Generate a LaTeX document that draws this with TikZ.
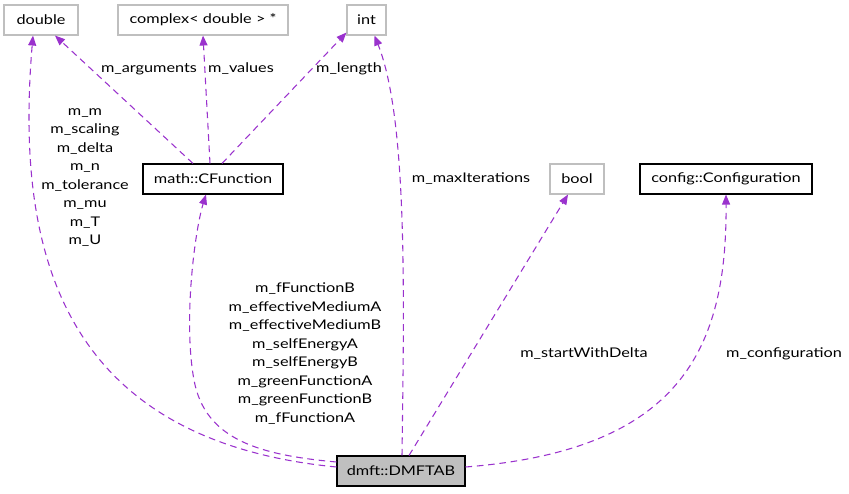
\documentclass[tikz,border=0pt]{standalone}
\usepackage{fontspec}
\setmainfont{Lato}[FakeStretch=1.22]
\usetikzlibrary{arrows.meta,calc}
\definecolor{edgecol}{RGB}{154,50,205}
\definecolor{greyline}{RGB}{191,191,191}
\definecolor{selffill}{RGB}{191,191,191}
\tikzset{
  klass/.style={draw=black,line width=0.8pt,minimum height=22.5pt,inner sep=0pt,font=\fontsize{10}{12}\selectfont},
  extern/.style={klass,draw=greyline},
  selfbox/.style={klass,fill=selffill},
  dep/.style={draw=edgecol,line width=0.8pt,dash pattern={on 5pt off 3.5pt},-{Triangle[length=7.5pt,width=6pt]}},
  lbl/.style={align=center,inner sep=0pt,font=\fontsize{10}{13.9}\selectfont}
}
\begin{document}
\begin{tikzpicture}[x=0.75pt,y=0.75pt,yscale=-1,xscale=1]
\useasboundingbox (0,0) rectangle (849,493);

%Boxes
\node[extern,minimum width=55.5pt] (double) at (41,20) {double};
\node[extern,minimum width=127.5pt] (complex) at (203,20) {complex< double > *};
\node[extern,minimum width=29.25pt] (int) at (366.5,20) {int};
\node[klass,minimum width=105pt] (cfunc) at (213,179) {math::CFunction};
\node[extern,minimum width=40.5pt] (bool) at (577,179) {bool};
\node[klass,minimum width=129pt] (config) at (726,179) {config::Configuration};
\node[selfbox,minimum width=96pt] (dmft) at (401,471) {dmft::DMFTAB};

%Edges out of CFunction
\draw[dep] ($(cfunc.north)+(-20,0)$) -- ($(double.south)+(14,0)$);
\draw[dep] ($(cfunc.north)+(-3,0)$) -- (complex.south);
\draw[dep] ($(cfunc.north)+(9,0)$) -- ($(int.south west)+(0,-3)$);

%Edges out of DMFTAB
\draw[dep] ($(dmft.west)+(0,-4)$) .. controls (60,440) and (15,250) .. ($(double.south)+(-8,0)$);
\draw[dep] ($(dmft.west)+(0,-9)$) .. controls (260,455) and (205,440) .. (194,380)
  .. controls (183,320) and (195,230) .. ($(cfunc.south)+(-7,0)$);
\draw[dep] ($(dmft.north)+(1,0)$) .. controls (404,300) and (408,120) .. ($(int.south)+(8,0)$);
\draw[dep] ($(dmft.north)+(8,0)$) -- ($(bool.south)+(-9,0)$);
\draw[dep] ($(dmft.east)+(0,-4)$) .. controls (680,450) and (727,350) .. (config.south);

%Labels
\node[lbl] (lblDouble) at (85,177.5) {m\_m\\m\_scaling\\m\_delta\\m\_n\\m\_tolerance\\m\_mu\\m\_T\\m\_U};
\node[lbl] (lblCfunc) at (305,353.5) {m\_fFunctionB\\m\_effectiveMediumA\\m\_effectiveMediumB\\m\_selfEnergyA\\m\_selfEnergyB\\m\_greenFunctionA\\m\_greenFunctionB\\m\_fFunctionA};
\node[lbl] (lblArgs) at (149,69) {m\_arguments};
\node[lbl] (lblValues) at (241,69) {m\_values};
\node[lbl] (lblLength) at (349,69) {m\_length};
\node[lbl] (lblIter) at (471,179) {m\_maxIterations};
\node[lbl] (lblStart) at (584,354) {m\_startWithDelta};
\node[lbl] (lblConf) at (784,354) {m\_configuration};
\end{tikzpicture}
\end{document}
